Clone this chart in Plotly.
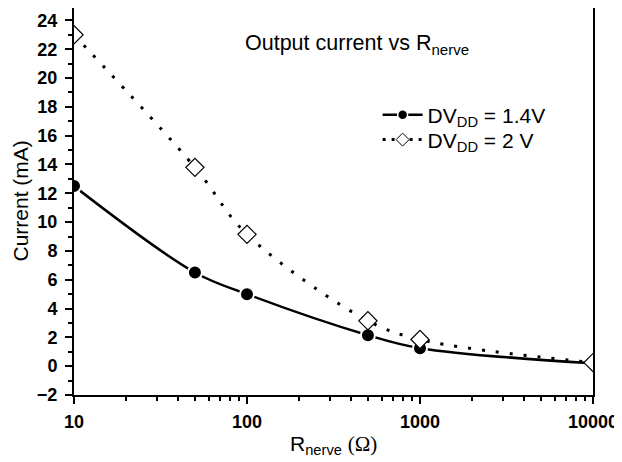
import plotly.graph_objects as go

r_nerve = [10, 50, 100, 500, 1000, 10000]
i_14v = [12.5, 6.5, 5.0, 2.15, 1.25, 0.2]
i_2v = [23.0, 13.8, 9.15, 3.15, 1.85, 0.25]

x_ticks = [10, 100, 1000, 10000]
x_ticktext = ["10", "100", "1000", "10000"]

font = "Arial, Liberation Sans, sans-serif"
name_14 = "DV<sub>DD</sub> = 1.4V"
name_2 = "DV<sub>DD</sub> = 2 V"

solid = dict(color="black", width=2.5, shape="spline", smoothing=1)
dotted = dict(color="black", width=3, shape="spline", smoothing=1, dash="3px,11px")

fig = go.Figure()

fig.add_trace(go.Scatter(
    x=r_nerve, y=i_14v, mode="lines+markers", showlegend=False,
    line=solid,
    marker=dict(symbol="circle", size=14, color="black",
                line=dict(color="white", width=2)),
))
fig.add_trace(go.Scatter(
    x=r_nerve, y=i_2v, mode="lines+markers", showlegend=False,
    line=dotted,
    marker=dict(symbol="diamond", size=14, color="white",
                line=dict(color="black", width=1.2)),
))

# legend entries (smaller markers, like the original), one legend per row
fig.add_trace(go.Scatter(
    x=[None], y=[None], mode="lines+markers", name=name_14, legend="legend",
    line=dict(color="black", width=2.5),
    marker=dict(symbol="circle", size=10, color="black",
                line=dict(color="white", width=1.5)),
))
fig.add_trace(go.Scatter(
    x=[None], y=[None], mode="lines+markers", name=name_2, legend="legend2",
    line=dict(color="black", width=3, dash="3px,6px"),
    marker=dict(symbol="diamond", size=10, color="white",
                line=dict(color="black", width=1)),
))

fig.add_annotation(
    x=0.545, y=0.905, xref="paper", yref="paper",
    text="Output current vs R<sub>nerve</sub>", showarrow=False,
    xanchor="center", yanchor="middle",
    font=dict(family=font, size=21.5, color="black"),
)
# axis titles
fig.add_annotation(
    x=0.5, y=0, xref="paper", yref="paper", yshift=-50,
    text="R<sub>nerve</sub> <span style='font-family:Liberation Serif'>(Ω)</span>",
    showarrow=False, xanchor="center", yanchor="middle",
    font=dict(family=font, size=21, color="black"),
)
fig.add_annotation(
    x=0, y=0.5, xref="paper", yref="paper", xshift=-54,
    text="Current (mA)", textangle=-90,
    showarrow=False, xanchor="center", yanchor="middle",
    font=dict(family=font, size=21, color="black"),
)

axis_common = dict(
    showline=True, linecolor="black", linewidth=2, mirror=True,
    ticks="outside", ticklen=7, tickwidth=2, tickcolor="black",
    showgrid=False, zeroline=False, automargin=False,
    tickfont=dict(family=font, size=18, color="black", weight="bold"),
)

legend_common = dict(
    xanchor="left", yanchor="middle",
    bgcolor="rgba(0,0,0,0)", borderwidth=0,
    font=dict(family=font, size=21, color="black"),
    itemwidth=40,
)

# page body adds an 8px offset, so the figure is 8px smaller than the window
fig.update_layout(
    width=614, height=454,
    margin=dict(l=66, r=29, t=0, b=67),
    plot_bgcolor="white", paper_bgcolor="white",
    font=dict(family=font, color="black"),
    xaxis=dict(
        type="log", range=[1, 4], tickvals=x_ticks, ticktext=x_ticktext,
        minor=dict(ticks="outside", ticklen=4, tickwidth=1.5, tickcolor="black", dtick="D1"),
        ticklabelstandoff=2,
        **axis_common,
    ),
    yaxis=dict(
        range=[-2, 24.86], dtick=2,
        minor=dict(ticks="outside", ticklen=4, tickwidth=1.5, tickcolor="black", dtick=1),
        ticklabelstandoff=4,
        **axis_common,
    ),
    legend=dict(x=0.585, y=0.7235, **legend_common),
    legend2=dict(x=0.585, y=0.659, **legend_common),
    showlegend=True,
)

fig.write_html("out.html")
